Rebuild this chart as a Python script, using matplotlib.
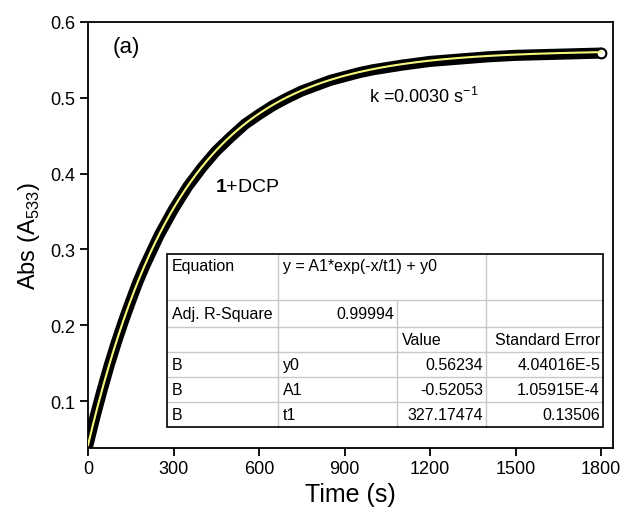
import numpy as np
import matplotlib
matplotlib.use('Agg')
import matplotlib.pyplot as plt
from matplotlib.patches import Rectangle
from matplotlib.lines import Line2D

plt.rcParams['font.family'] = ['Liberation Sans', 'DejaVu Sans']
plt.rcParams['mathtext.fontset'] = 'custom'
plt.rcParams['mathtext.rm'] = 'Liberation Sans'
plt.rcParams['mathtext.bf'] = 'Liberation Sans:bold'

# measured absorbance at 533 nm
time_s = [0, 25, 50, 75, 100, 125, 150, 175, 200, 250, 300, 350, 400, 450,
          500, 550, 600, 650, 700, 750, 800, 850, 900, 950, 1000, 1100, 1200,
          1300, 1400, 1500, 1600, 1700, 1800]
absorb = [0.042, 0.080, 0.115, 0.148, 0.178, 0.206, 0.232, 0.257, 0.279,
          0.319, 0.353, 0.383, 0.408, 0.430, 0.448, 0.465, 0.478, 0.490,
          0.500, 0.509, 0.516, 0.523, 0.528, 0.533, 0.537, 0.543, 0.548,
          0.551, 0.554, 0.556, 0.557, 0.558, 0.559]

# first-order fit parameters
y0, A1, t1 = 0.56234, -0.52053, 327.17474

table_rows = [
    ['Equation', 'y = A1*exp(-x/t1) + y0', '', ''],
    ['Adj. R-Square', '0.99994', '', ''],
    ['', '', 'Value', 'Standard Error'],
    ['B', 'y0', '0.56234', '4.04016E-5'],
    ['B', 'A1', '-0.52053', '1.05915E-4'],
    ['B', 't1', '327.17474', '0.13506'],
]

fig = plt.figure(figsize=(6.24, 5.10), dpi=100)
ax = fig.add_axes([88/624, 1 - 449/510, (613-88)/624, (449-23)/510])

ax.plot(time_s, absorb, color='black', lw=8, solid_capstyle='round', zorder=2)
ax.plot(time_s[-1], absorb[-1], 'o', ms=7, mfc='white', mec='black', mew=1.5, zorder=3)
xf = np.linspace(0, 1800, 400)
ax.plot(xf, A1*np.exp(-xf/t1) + y0, color='#f7f77c', lw=1.5, zorder=4)

ax.set_xlim(0, 1842)
ax.set_ylim(0.038, 0.6)
ax.set_xticks(range(0, 1801, 300))
ax.set_yticks([0.1, 0.2, 0.3, 0.4, 0.5, 0.6])
ax.tick_params(direction='out', length=6, width=1.3, labelsize=13, pad=3,
               top=False, right=False)
for s in ax.spines.values():
    s.set_linewidth(1.3)
ax.set_xlabel('Time (s)', fontsize=18, labelpad=3)
ax.set_ylabel('Abs (A$_{533}$)', fontsize=17, labelpad=6)

ax.text(0.046, 0.967, '(a)', transform=ax.transAxes, fontsize=16, va='top')
ax.text(0.535, 0.812, 'k =0.0030 s$^{-1}$', transform=ax.transAxes, fontsize=13)
ax.text(0.242, 0.603, r'$\mathbf{1}$+DCP', transform=ax.transAxes, fontsize=14)

# fit report table, laid out in figure pixels
W, H = 624, 510
xe = [167, 278, 397, 486, 603]
ye = [255, 301, 328, 353, 378, 403, 428]
def fx(x): return x / W
def fy(y): return 1 - y / H

fig.patches.append(Rectangle((fx(xe[0]), fy(ye[-1])), fx(xe[-1]) - fx(xe[0]),
                             fy(ye[0]) - fy(ye[-1]), transform=fig.transFigure,
                             facecolor='white', edgecolor='none', zorder=5))
grey = '#c8c8c8'
for y in ye[1:-1]:
    fig.add_artist(Line2D([fx(xe[0]), fx(xe[-1])], [fy(y), fy(y)], color=grey, lw=1, zorder=6))
# vertical separators (the equation cell spans two columns)
fig.add_artist(Line2D([fx(xe[1])]*2, [fy(ye[0]), fy(ye[-1])], color=grey, lw=1, zorder=6))
fig.add_artist(Line2D([fx(xe[2])]*2, [fy(ye[1]), fy(ye[-1])], color=grey, lw=1, zorder=6))
fig.add_artist(Line2D([fx(xe[3])]*2, [fy(ye[0]), fy(ye[-1])], color=grey, lw=1, zorder=6))
fig.patches.append(Rectangle((fx(xe[0]), fy(ye[-1])), fx(xe[-1]) - fx(xe[0]),
                             fy(ye[0]) - fy(ye[-1]), transform=fig.transFigure,
                             facecolor='none', edgecolor='black', lw=1.2, zorder=7))

tfs = 11.5
for r, row in enumerate(table_rows):
    if r == 0:
        yc = ye[0] + 12
    else:
        yc = (ye[r] + ye[r+1]) / 2
    for c, txt in enumerate(row):
        if not txt:
            continue
        numeric = r >= 1 and c >= 1 and not (r == 2) and not (c == 1 and r >= 3)
        if r == 2 and c == 3:
            numeric = True
        if numeric:
            fig.text(fx(xe[c+1] - 3), fy(yc), txt, ha='right', va='center', fontsize=tfs, zorder=8)
        else:
            fig.text(fx(xe[c] + 5), fy(yc), txt, ha='left', va='center', fontsize=tfs, zorder=8)

fig.savefig('out.png', dpi=100)
